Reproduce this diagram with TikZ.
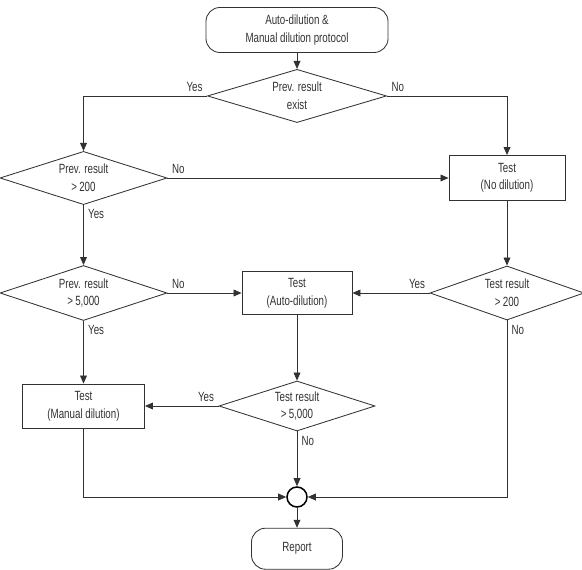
\documentclass[tikz,border=0pt]{standalone}
\usepackage{fontspec}
\setmainfont{Liberation Sans}[FakeStretch=0.73]
\definecolor{flowgray}{RGB}{50,50,50}
\usetikzlibrary{arrows.meta,positioning,shapes.geometric}

\begin{document}
\begin{tikzpicture}[
      x=0.025cm, y=-0.025cm,
      font=\fontsize{9.5}{12.5}\selectfont, text=flowgray,
      term/.style={draw=flowgray, line width=0.6pt, rounded corners=0.35cm, align=center,
                   minimum width=4.55cm, minimum height=1.125cm},
      testbox/.style={draw=flowgray, line width=0.6pt, align=center,
                   minimum height=1.1cm},
      dia/.style={draw=flowgray, line width=0.6pt, shape=diamond, aspect=3, inner sep=0pt,
                  align=center, minimum height=1.33cm},
      lbl/.style={inner sep=3pt, text=flowgray},
      arr/.style={-{Triangle[length=2mm, width=1.7mm]}, line width=0.6pt, flowgray}]
    \useasboundingbox (0,0) rectangle (582,569);
    % top of the chart
    \node[term] (start) at (297,30) {Auto-dilution \&\\ Manual dilution protocol};
    \node[dia, minimum width=4.475cm, below=0.4cm of start] (exist) {Prev. result\\ exist};
    % left column
    \node[dia, minimum width=4.175cm] (p200) at (83.5,178) {Prev. result\\ >\,200};
    \node[dia, minimum width=4.175cm, minimum height=1.375cm] (p5000) at (83.5,293) {Prev. result\\ >\,5,000};
    \node[testbox, minimum width=3.05cm] (manual) at (83.5,406) {Test\\ (Manual dilution)};
    % middle column
    \node[testbox, minimum width=2.75cm, minimum height=1.075cm] (auto) at (297,293) {Test\\ (Auto-dilution)};
    \node[dia, minimum width=3.9cm, minimum height=1.25cm] (t5000) at (297,406) {Test result\\ >\,5,000};
    \node[circle, draw=black, line width=1.1pt, minimum size=0.5cm, inner sep=0pt] (join) at (297,497) {};
    \node[term, minimum width=2.275cm, minimum height=1.025cm, below=0.5cm of join] (report) {Report};
    % right column
    \node[testbox, minimum width=2.9cm, minimum height=1.125cm] (nodil) at (507,178) {Test\\ (No dilution)};
    \node[dia, minimum width=3.85cm, minimum height=1.35cm] (t200) at (507,293) {Test result\\ >\,200};

    \draw[arr] (start) -- (exist);
    \draw[arr] (exist.west) node[lbl, above left] {Yes} -| (p200.north);
    \draw[arr] (exist.east) node[lbl, above right] {No} -| (nodil.north);
    \draw[arr] (p200.east) node[lbl, above right] {No} -- (nodil.west);
    \draw[arr] (p200.south) node[lbl, below right] {Yes} -- (p5000.north);
    \draw[arr] (nodil.south) -- (t200.north);
    \draw[arr] (t200.west) node[lbl, above left] {Yes} -- (auto.east);
    \draw[arr] (p5000.east) node[lbl, above right] {No} -- (auto.west);
    \draw[arr] (p5000.south) node[lbl, below right] {Yes} -- (manual.north);
    \draw[arr] (auto.south) -- (t5000.north);
    \draw[arr] (t5000.west) node[lbl, above left] {Yes} -- (manual.east);
    \draw[arr] (t5000.south) node[lbl, below right] {No} -- (join.north);
    \draw[arr] (manual.south) |- (join.west);
    \draw[arr] (t200.south) node[lbl, below right] {No} |- (join.east);
    \draw[arr] (join.south) -- (report.north);
  \end{tikzpicture}
\end{document}
